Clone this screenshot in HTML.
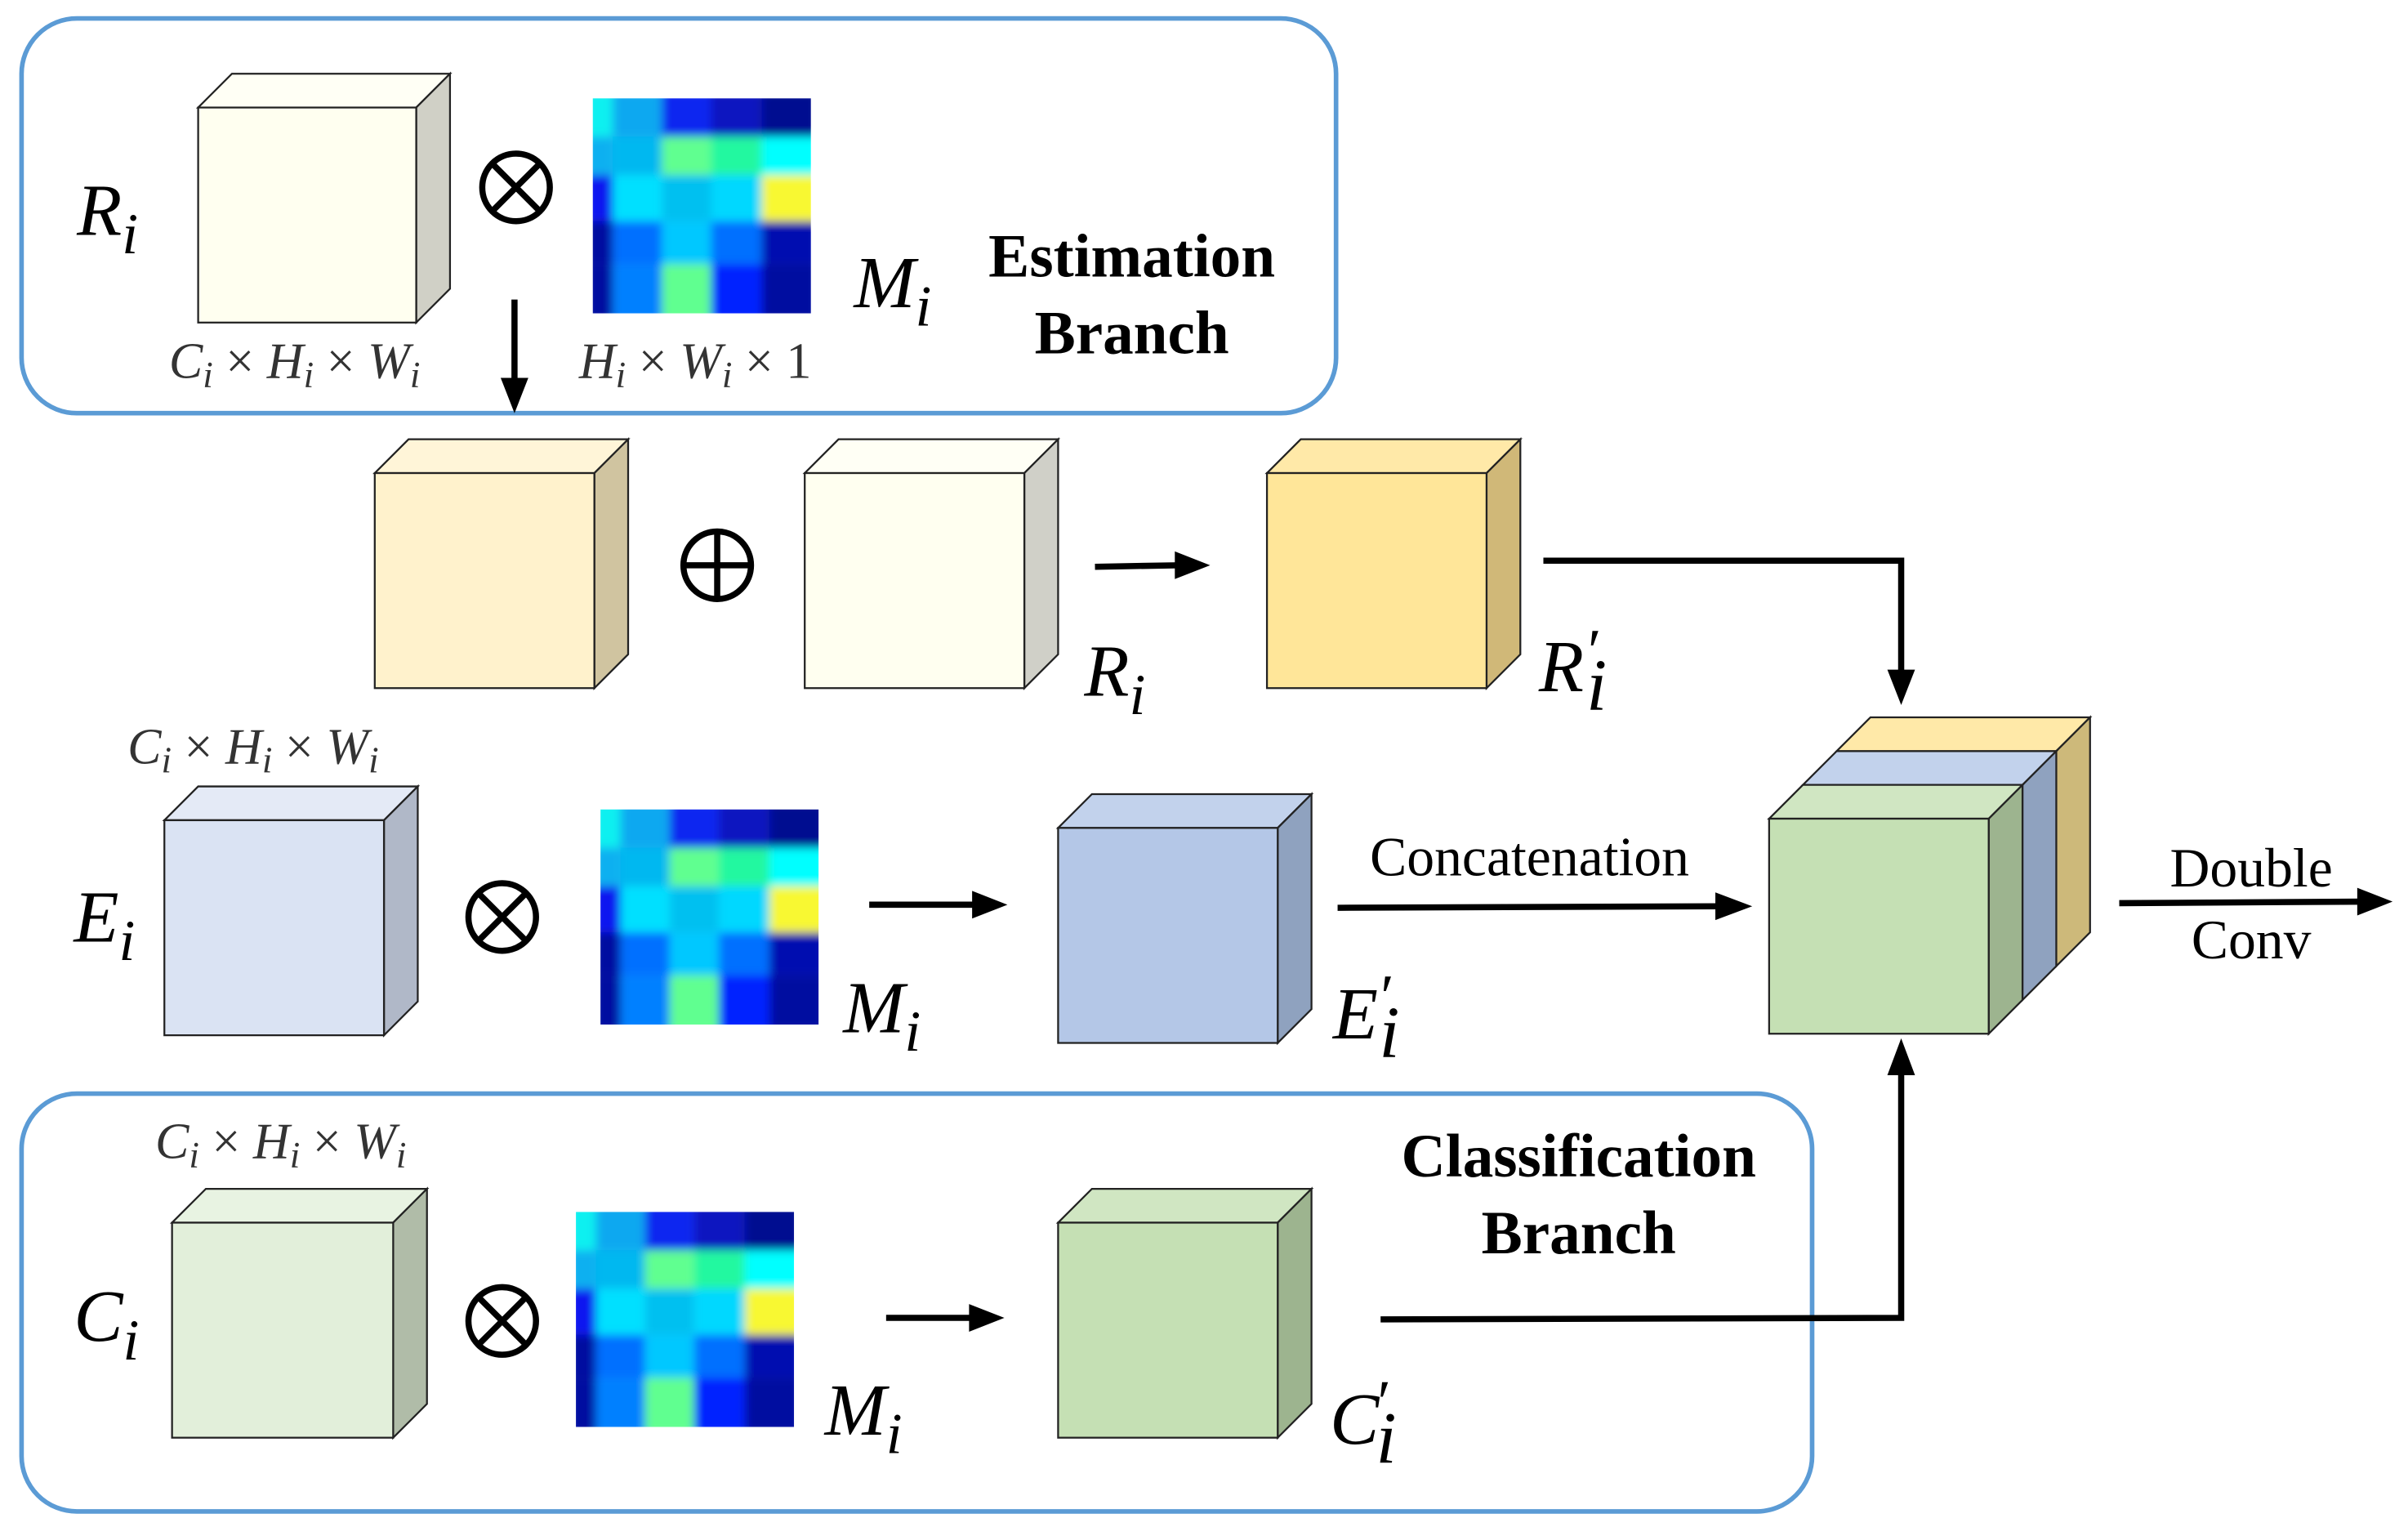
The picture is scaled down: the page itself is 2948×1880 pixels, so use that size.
<!DOCTYPE html>
<html><head><meta charset="utf-8"><style>
html,body{margin:0;padding:0;background:#fff}
svg{display:block}
.lab{font-family:"Liberation Serif",serif;font-style:italic;font-size:48px;fill:#000}
.dim{font-family:"Liberation Serif",serif;font-style:italic;font-size:33px;fill:#333}
.bold{font-family:"Liberation Serif",serif;font-weight:bold;font-size:40px;fill:#000}
.reg{font-family:"Liberation Serif",serif;font-size:36px;fill:#000}
</style></head><body>
<svg width="2948" height="1880" viewBox="0 0 1568 1000" xmlns="http://www.w3.org/2000/svg">
<defs>
<filter id="bl"><feGaussianBlur stdDeviation="3"/></filter>
<clipPath id="hc"><rect x="0" y="0" width="142" height="140"/></clipPath>
<g id="hm">
<g clip-path="url(#hc)"><g filter="url(#bl)">
<rect x="-5" y="-5" width="18" height="30" fill="#10f0f0"/>
<rect x="13" y="-5" width="32" height="30" fill="#10a8f0"/>
<rect x="45" y="-5" width="32" height="30" fill="#1028f0"/>
<rect x="77" y="-5" width="33" height="30" fill="#0818c0"/>
<rect x="110" y="-5" width="37" height="30" fill="#000890"/>
<rect x="-5" y="25" width="18" height="25" fill="#08b0f0"/>
<rect x="13" y="25" width="32" height="25" fill="#00b8f0"/>
<rect x="45" y="25" width="32" height="25" fill="#60ff90"/>
<rect x="77" y="25" width="33" height="25" fill="#20f8a0"/>
<rect x="110" y="25" width="37" height="25" fill="#00ffff"/>
<rect x="-5" y="50" width="18" height="30" fill="#0818f0"/>
<rect x="13" y="50" width="32" height="30" fill="#00e0ff"/>
<rect x="45" y="50" width="32" height="30" fill="#00c0f0"/>
<rect x="77" y="50" width="33" height="30" fill="#00d8ff"/>
<rect x="110" y="50" width="37" height="30" fill="#f8f830"/>
<rect x="-5" y="80" width="18" height="28" fill="#0008a0"/>
<rect x="13" y="80" width="32" height="28" fill="#0070ff"/>
<rect x="45" y="80" width="32" height="28" fill="#00c8ff"/>
<rect x="77" y="80" width="33" height="28" fill="#0070ff"/>
<rect x="110" y="80" width="37" height="28" fill="#0010b0"/>
<rect x="-5" y="108" width="18" height="37" fill="#0008a0"/>
<rect x="13" y="108" width="32" height="37" fill="#0080ff"/>
<rect x="45" y="108" width="32" height="37" fill="#60ff90"/>
<rect x="77" y="108" width="33" height="37" fill="#0020ff"/>
<rect x="110" y="108" width="37" height="37" fill="#0010a0"/>
</g></g></g>
</defs>

<rect x="14" y="12" width="856" height="257" rx="36" fill="none" stroke="#5b9bd5" stroke-width="3"/>
<rect x="14" y="712" width="1166" height="272" rx="36" fill="none" stroke="#5b9bd5" stroke-width="3"/>

<g stroke="#222" stroke-width="1.2">
<polygon points="129,70 151,48 293,48 271,70" fill="#fffff5"/>
<polygon points="271,70 293,48 293,188 271,210" fill="#d0d0c6"/>
<rect x="129" y="70" width="142" height="140" fill="#fffff0"/>

<polygon points="244,308 266,286 409,286 387,308" fill="#fff5d8"/>
<polygon points="387,308 409,286 409,426 387,448" fill="#d0c4a0"/>
<rect x="244" y="308" width="143" height="140" fill="#fff2cc"/>

<polygon points="524,308 546,286 689,286 667,308" fill="#fffff5"/>
<polygon points="667,308 689,286 689,426 667,448" fill="#d0d0c8"/>
<rect x="524" y="308" width="143" height="140" fill="#fffff0"/>

<polygon points="825,308 847,286 990,286 968,308" fill="#ffe9a8"/>
<polygon points="968,308 990,286 990,426 968,448" fill="#d0b878"/>
<rect x="825" y="308" width="143" height="140" fill="#ffe699"/>

<polygon points="107,534 129,512 272,512 250,534" fill="#e4eaf6"/>
<polygon points="250,534 272,512 272,652 250,674" fill="#b0b8c8"/>
<rect x="107" y="534" width="143" height="140" fill="#dae3f3"/>

<polygon points="689,539 711,517 854,517 832,539" fill="#c2d2ec"/>
<polygon points="832,539 854,517 854,657 832,679" fill="#8fa2bf"/>
<rect x="689" y="539" width="143" height="140" fill="#b4c7e7"/>

<polygon points="112,796 134,774 278,774 256,796" fill="#e8f3e2"/>
<polygon points="256,796 278,774 278,914 256,936" fill="#b0bca8"/>
<rect x="112" y="796" width="144" height="140" fill="#e2efda"/>

<polygon points="689,796 711,774 854,774 832,796" fill="#d0e6c2"/>
<polygon points="832,796 854,774 854,914 832,936" fill="#9db48f"/>
<rect x="689" y="796" width="143" height="140" fill="#c5e0b4"/>

<polygon points="1196,489 1218,467 1361,467 1339,489" fill="#ffe9a8"/>
<polygon points="1339,489 1361,467 1361,607 1339,629" fill="#cdb97a"/>
<polygon points="1174,511 1196,489 1339,489 1317,511" fill="#c2d2ec"/>
<polygon points="1317,511 1339,489 1339,629 1317,651" fill="#8fa2bf"/>
<polygon points="1152,533 1174,511 1317,511 1295,533" fill="#d0e6c2"/>
<polygon points="1295,533 1317,511 1317,651 1295,673" fill="#9db48f"/>
<rect x="1152" y="533" width="143" height="140" fill="#c5e0b4"/>
</g>

<use href="#hm" transform="translate(386,64)"/>
<use href="#hm" transform="translate(391,527)"/>
<use href="#hm" transform="translate(375,789)"/>

<g fill="none" stroke="#000" stroke-width="4">
<circle cx="336" cy="122" r="22"/><path d="M320,106 L352,138 M352,106 L320,138"/>
<circle cx="327" cy="597" r="22"/><path d="M311,581 L343,613 M343,581 L311,613"/>
<circle cx="327" cy="860" r="22"/><path d="M311,844 L343,876 M343,844 L311,876"/>
<circle cx="467" cy="368" r="22"/><path d="M445,368 L489,368 M467,346 L467,390"/>
</g>

<g stroke="#000" stroke-width="4" fill="none">
<path d="M335,195 L335,250"/>
<path d="M713,369 L768,368"/>
<path d="M1005,365 L1238,365 L1238,440"/>
<path d="M566,589 L636,589"/>
<path d="M871,591 L1120,590"/>
<path d="M1380,588 L1538,587"/>
<path d="M577,858 L634,858"/>
<path d="M899,859 L1238,858 L1238,696"/>
</g>
<g fill="#000">
<polygon points="326,246 344,246 335,269"/>
<polygon points="765,359 765,377 788,368"/>
<polygon points="1229,436 1247,436 1238,459"/>
<polygon points="633,580 633,598 656,589"/>
<polygon points="1117,581 1117,599 1141,590"/>
<polygon points="1535,578 1535,596 1558,587"/>
<polygon points="631,849 631,867 654,858"/>
<polygon points="1229,700 1247,700 1238,676"/>
</g>

<text class="lab" x="50" y="153">R<tspan dy="12" font-size="38">i</tspan></text>
<text class="lab" x="556" y="200">M<tspan dy="12" font-size="38">i</tspan></text>
<text class="lab" x="706" y="453">R<tspan dy="12" font-size="38">i</tspan></text>
<text class="lab" x="1002" y="450">R</text><text class="lab" x="1033" y="462" font-size="38">i</text><text x="1034" y="437" font-family="Liberation Serif" font-size="40" font-style="normal">′</text>
<text class="lab" x="48" y="613">E<tspan dy="12" font-size="38">i</tspan></text>
<text class="lab" x="549" y="672">M<tspan dy="12" font-size="38">i</tspan></text>
<text class="lab" x="868" y="676">E</text><text class="lab" x="898" y="688" font-size="38">i</text><text x="899" y="662" font-family="Liberation Serif" font-size="40">′</text>
<text class="lab" x="48" y="873">C<tspan dy="12" font-size="38">i</tspan></text>
<text class="lab" x="537" y="934">M<tspan dy="12" font-size="38">i</tspan></text>
<text class="lab" x="866" y="940">C</text><text class="lab" x="896" y="952" font-size="38">i</text><text x="897" y="926" font-family="Liberation Serif" font-size="40">′</text>

<text class="dim" x="110" y="246">C<tspan dy="6" font-size="24">i</tspan><tspan dy="-6" font-style="normal"> × </tspan>H<tspan dy="6" font-size="24">i</tspan><tspan dy="-6" font-style="normal"> × </tspan>W<tspan dy="6" font-size="24">i</tspan></text>
<text class="dim" x="377" y="246">H<tspan dy="6" font-size="24">i</tspan><tspan dy="-6" font-style="normal"> × </tspan>W<tspan dy="6" font-size="24">i</tspan><tspan dy="-6" font-style="normal"> × 1</tspan></text>
<text class="dim" x="83" y="497">C<tspan dy="6" font-size="24">i</tspan><tspan dy="-6" font-style="normal"> × </tspan>H<tspan dy="6" font-size="24">i</tspan><tspan dy="-6" font-style="normal"> × </tspan>W<tspan dy="6" font-size="24">i</tspan></text>
<text class="dim" x="101" y="754">C<tspan dy="6" font-size="24">i</tspan><tspan dy="-6" font-style="normal"> × </tspan>H<tspan dy="6" font-size="24">i</tspan><tspan dy="-6" font-style="normal"> × </tspan>W<tspan dy="6" font-size="24">i</tspan></text>

<text class="bold" x="737" y="180" text-anchor="middle">Estimation</text>
<text class="bold" x="737" y="230" text-anchor="middle">Branch</text>
<text class="bold" x="1028" y="766" text-anchor="middle">Classification</text>
<text class="bold" x="1028" y="816" text-anchor="middle">Branch</text>
<text class="reg" x="996" y="570" text-anchor="middle">Concatenation</text>
<text class="reg" x="1466" y="577" text-anchor="middle">Double</text>
<text class="reg" x="1466" y="624" text-anchor="middle">Conv</text>
</svg>
</body></html>
